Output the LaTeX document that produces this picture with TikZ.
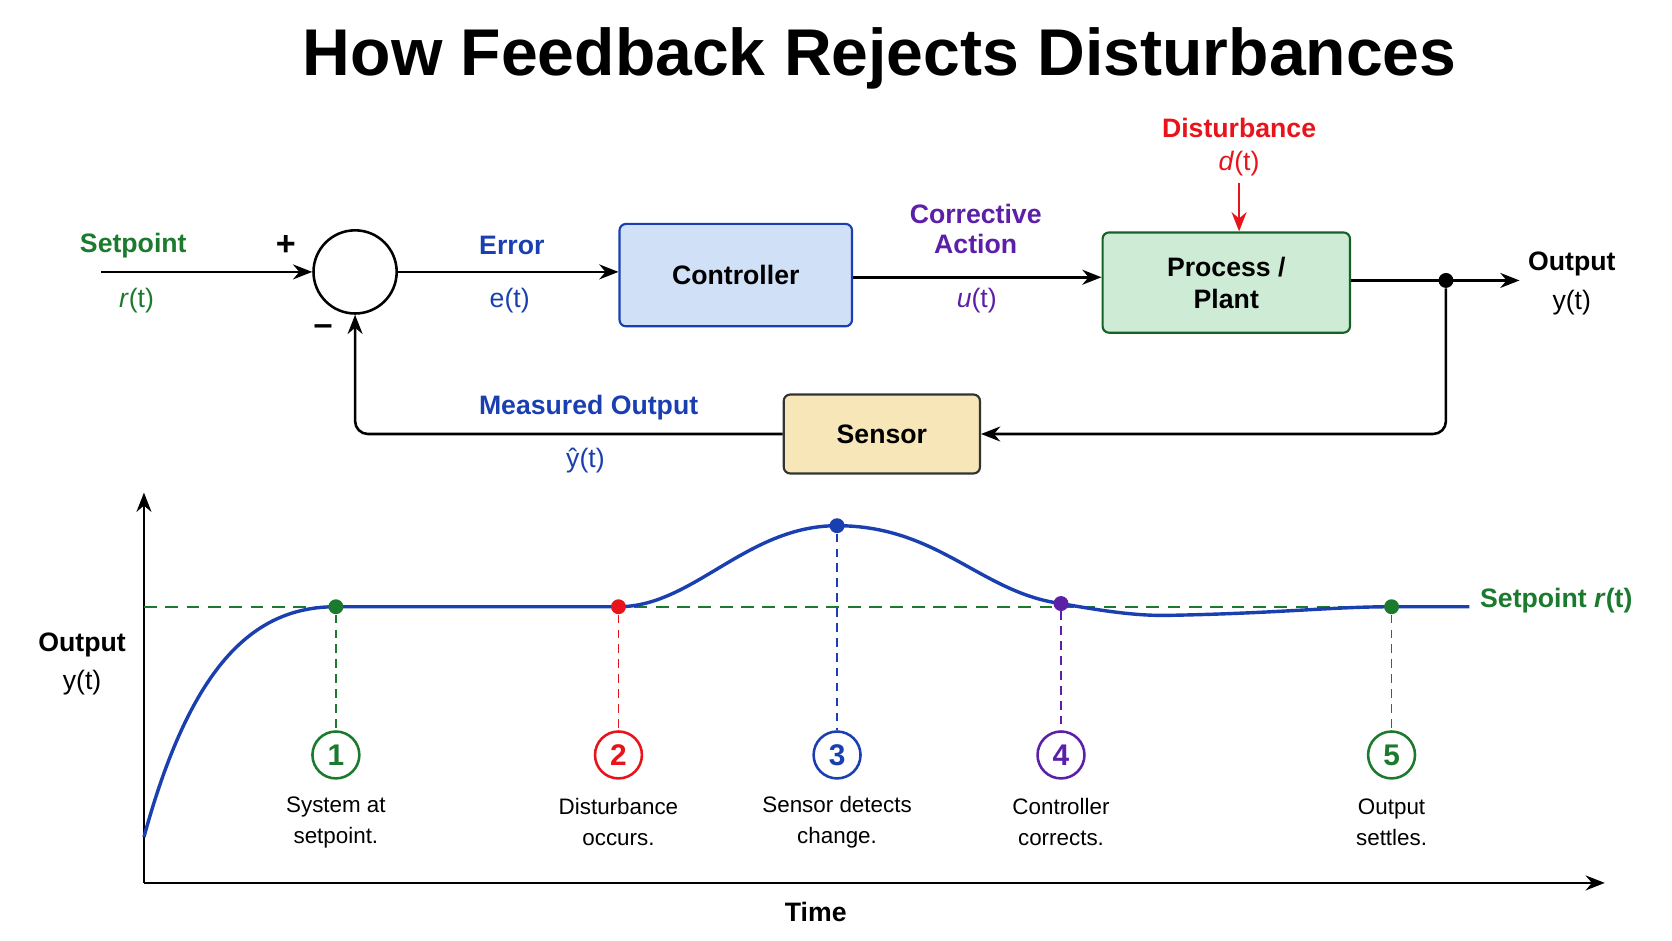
\documentclass[tikz,border=0pt]{standalone}
\usepackage{fontspec}
\setmainfont{Liberation Sans}
\usetikzlibrary{arrows.meta}
\definecolor{gr}{HTML}{1B7A2E}
\definecolor{bl}{HTML}{1A3FB0}
\definecolor{pu}{HTML}{5B1FA8}
\definecolor{rd}{HTML}{E8141B}
\definecolor{cfill}{HTML}{CFE0F7}
\definecolor{pfill}{HTML}{CDEBD5}
\definecolor{sfill}{HTML}{F7E6B8}
\begin{document}
\begin{tikzpicture}[x=0.5pt,y=-0.5pt,
 lab/.style={font=\fontsize{12.5}{14}\selectfont\bfseries,align=center},
 sym/.style={font=\fontsize{12.5}{14}\selectfont},
 captxt/.style={font=\fontsize{10.5}{14.5}\selectfont,align=center},
 box/.style={draw,line width=1pt,rounded corners=3pt,font=\fontsize{12.5}{15}\selectfont\bfseries,align=center,inner sep=0},
 ar/.style={line width=1.2pt,-{Stealth[length=9pt,width=7pt]}},
 num/.style={circle,draw,line width=1.2pt,fill=white,minimum size=22pt,inner sep=0,font=\fontsize{14}{14}\selectfont\bfseries},
 dot/.style={circle,fill,inner sep=0,minimum size=7pt}]
\useasboundingbox (0,0) rectangle (1568,882);
\node (title) at (825,55) {\fontsize{31}{34}\selectfont\bfseries How Feedback Rejects Disturbances};
% block diagram
\node[circle,draw,line width=1.2pt,minimum size=39pt,inner sep=0] (sum) at (333,255) {};
\node[box,fill=cfill,draw=bl,minimum width=109pt,minimum height=48pt] (ctrl) at (690,258) {Controller};
\node[box,fill=pfill,draw=gr!80!black,minimum width=116pt,minimum height=47pt] (proc) at (1150,265) {Process /\\Plant};
\node[box,fill=sfill,draw=black!80,minimum width=92pt,minimum height=37pt] (sens) at (827,407) {Sensor};
\coordinate (in) at (95,255);
\node[dot] (tap) at (1356,263) {};
\coordinate (out) at (1425,263);
\coordinate (fb) at (1356,407);
\coordinate (dtop) at (1162,172);
\draw[ar] (in) -- (sum.west);
\draw[ar] (sum.east) -- (ctrl.west|-sum.east);
\draw[ar] (ctrl.east|-0,260) -- (proc.west|-0,260);
\draw[ar] (proc.east|-tap) -- (out);
\draw[ar,rounded corners=6pt] (tap) -- (fb) -- (sens.east);
\draw[ar,rounded corners=6pt] (sens.west) -| (sum.south);
\draw[ar,rd] (dtop) -- (proc.north-|dtop);
\node[lab,text=gr] (sp) at (125,230) {Setpoint};
\node[sym,text=gr] (rt) at (128,282) {\textit{r}(t)};
\node[font=\fontsize{16}{16}\selectfont\bfseries] (plus) at (268,230) {+};
\node[font=\fontsize{16}{16}\selectfont\bfseries] (minus) at (303,310) {–};
\node[lab,text=bl] (err) at (480,230) {Error};
\node[sym,text=bl] (et) at (478,282) {e(t)};
\node[lab,text=pu] (ca) at (915,215) {Corrective\\Action};
\node[sym,text=pu] (ut) at (916,282) {\textit{u}(t)};
\node[lab,text=rd] (dist) at (1162,120) {Disturbance};
\node[sym,text=rd] (dt) at (1162,153) {\textit{d}(t)};
\node[lab] (outl) at (1474,248) {Output};
\node[sym] (yt) at (1474,284) {y(t)};
\node[lab,text=bl] (mo) at (552,382) {Measured Output};
\node[sym,text=bl] (yh) at (549,432) {ŷ(t)};
% plot
\coordinate (o) at (135,828);
\coordinate (ytop) at (135,462);
\coordinate (xend) at (1505,828);
\draw[ar] (o) -- (ytop);
\draw[ar] (o) -- (xend);
\node[lab] (time) at (765,855) {Time};
\node[lab] (ol) at (77,605) {Output};
\node[sym] (oyt) at (77,640) {y(t)};
\coordinate (sl) at (135,569);
\coordinate (sr) at (1378,569);
\draw[gr,line width=0.9pt,dash pattern=on 6pt off 4pt] (sl) -- (sr);
\node[lab,text=gr,anchor=west] (spl) at (1381,563) {Setpoint \textit{r}(t)};
\draw[bl,line width=1.6pt] (135,785) .. controls (180,620) and (240,569) .. (315,569) -- (580,569) .. controls (650,569) and (700,493) .. (785,493) .. controls (880,493) and (920,556) .. (995,566) .. controls (1040,574) and (1070,578) .. (1100,577) .. controls (1200,575) and (1250,569) .. (1305,569) -- (1378,569);
\foreach \i/\x/\y/\c/\t in {1/315/569/gr/{System at\\setpoint.},2/580/569/rd/{Disturbance\\occurs.},3/785/493/bl/{Sensor detects\\change.},4/995/566/pu/{Controller\\corrects.},5/1305/569/gr/{Output\\settles.}}{
 \node[dot,fill=\c] (m\i) at (\x,\y) {};
 \node[num,draw=\c,text=\c] (n\i) at (\x,708) {\i};
 \draw[\c,line width=0.8pt,dash pattern=on 4pt off 3pt] (m\i) -- (n\i);
 \node[captxt] (c\i) at (\x,771) {\t};
}
\end{tikzpicture}
\end{document}
